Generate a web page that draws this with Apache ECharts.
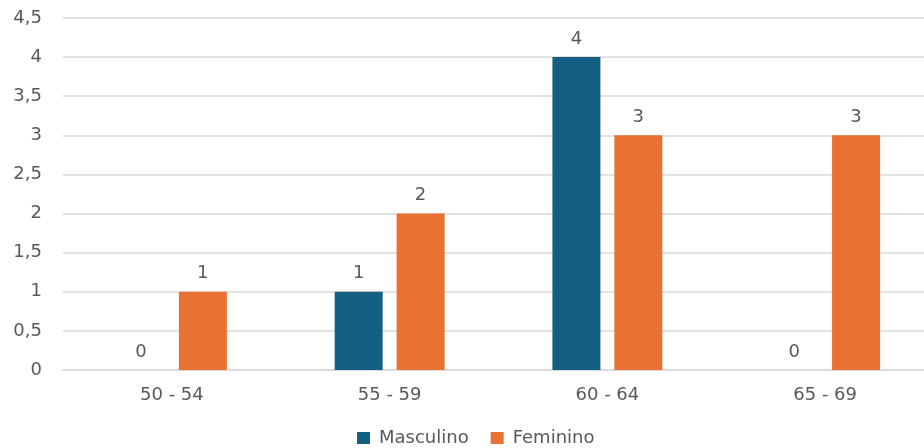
<!DOCTYPE html>
<html><head><meta charset="utf-8">
<script src="https://cdn.jsdelivr.net/npm/echarts@6/dist/echarts.min.js"></script>
<style>html,body{margin:0;padding:0;background:#fff}#c{width:924px;height:448px}</style>
</head><body><div id="c"></div>
<script>
const categories = ['50 - 54', '55 - 59', '60 - 64', '65 - 69'];
const masculino = [0, 1, 4, 0];
const feminino = [1, 2, 3, 3];
const seriesNames = ['Masculino', 'Feminino'];

const font = 'DejaVu Sans, sans-serif';
const txt = '#595959';
const fs = 18;
const chart = echarts.init(document.getElementById('c'));
const lbl = {show: true, position: 'top', distance: 9, color: txt, fontSize: fs, fontFamily: font};
chart.setOption({
  animation: false,
  grid: {left: 63, top: 18, width: 871, height: 352, containLabel: false, outerBoundsMode: 'none'},
  legend: {
    bottom: -4, left: 352, itemWidth: 13, itemHeight: 12, itemGap: 22,
    icon: 'rect',
    textStyle: {color: txt, fontSize: fs, fontFamily: font, padding: [0, 0, 0, 4]}
  },
  xAxis: {
    type: 'category', data: categories,
    axisLine: {lineStyle: {color: '#d9d9d9', width: 1.5}},
    axisTick: {show: false},
    axisLabel: {color: txt, fontSize: fs, fontFamily: font, margin: 16}
  },
  yAxis: {
    type: 'value', min: 0, max: 4.5, interval: 0.5,
    axisLine: {show: false}, axisTick: {show: false},
    splitLine: {lineStyle: {color: '#d9d9d9', width: 1.5}},
    axisLabel: {color: txt, fontSize: fs, fontFamily: font, margin: 21,
      formatter: v => String(v).replace('.', ',')}
  },
  series: [
    {name: seriesNames[0], type: 'bar', data: masculino, barWidth: 48, barGap: '29%',
     itemStyle: {color: '#156082'}, label: lbl},
    {name: seriesNames[1], type: 'bar', data: feminino, barWidth: 48,
     itemStyle: {color: '#E97132'}, label: lbl}
  ]
});
</script></body></html>
